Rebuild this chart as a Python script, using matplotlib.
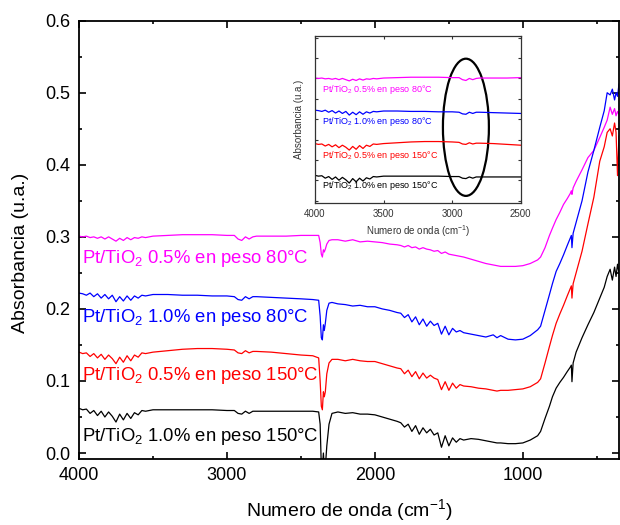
import matplotlib
matplotlib.use("Agg")
import matplotlib.pyplot as plt
from matplotlib.patches import Ellipse
from matplotlib.ticker import MultipleLocator

plt.rcParams['font.family'] = ['Liberation Sans', 'DejaVu Sans']
plt.rcParams['mathtext.fontset'] = 'custom'
plt.rcParams['mathtext.rm'] = 'Liberation Sans'
plt.rcParams['mathtext.it'] = 'Liberation Sans:italic'
plt.rcParams['mathtext.bf'] = 'Liberation Sans:bold'

# ---------------- data ----------------
wavenumber = [
    4000, 3975, 3950, 3925, 3900, 3875, 3850, 3825, 3800, 3775, 3750, 3725, 3700, 3675, 3650, 3625, 3600, 3575, 3550,
    3500, 3400, 3300, 3200, 3100, 3000, 2950, 2925, 2900, 2875, 2850, 2825, 2800, 2700, 2600, 2500, 2420,
    2380, 2370, 2362, 2355, 2348, 2342, 2335, 2325, 2310, 2290,
    2250, 2200, 2150, 2100, 2050, 2000, 1950, 1900, 1850,
    1825, 1800, 1775, 1750, 1725, 1700, 1675, 1650, 1625, 1600, 1575, 1550, 1525, 1500, 1475, 1450, 1425, 1400,
    1350, 1300, 1250, 1200, 1175, 1150, 1100, 1050, 1000, 950, 900, 880,
    850, 820, 800, 775, 750, 725, 700, 680, 672, 668, 660, 640, 600, 560, 520, 480, 450, 430, 410, 395, 380, 370, 360, 350,
]

abs_05_80 = [
    0.301, 0.300, 0.301, 0.299, 0.300, 0.298, 0.300, 0.297, 0.300, 0.297, 0.294, 0.298, 0.295, 0.299, 0.296, 0.299, 0.298, 0.300, 0.299,
    0.301, 0.302, 0.303, 0.303, 0.303, 0.302, 0.302, 0.297, 0.295, 0.300, 0.297, 0.300, 0.301, 0.301, 0.301, 0.302, 0.302,
    0.302, 0.292, 0.276, 0.272, 0.282, 0.279, 0.283, 0.290, 0.295, 0.296,
    0.296, 0.294, 0.296, 0.293, 0.294, 0.293, 0.292, 0.290, 0.289,
    0.288, 0.286, 0.288, 0.285, 0.286, 0.283, 0.285, 0.283, 0.282, 0.280, 0.281, 0.277, 0.279, 0.276, 0.275, 0.274, 0.273, 0.272,
    0.269, 0.266, 0.263, 0.261, 0.260, 0.259, 0.259, 0.259, 0.260, 0.263, 0.268, 0.272,
    0.285, 0.302, 0.312, 0.324, 0.334, 0.345, 0.353, 0.360, 0.364, 0.359, 0.368, 0.377, 0.393, 0.410, 0.420, 0.438, 0.452, 0.462, 0.480, 0.470, 0.478, 0.468, 0.474, 0.470,
]

abs_10_80 = [
    0.222, 0.221, 0.219, 0.222, 0.217, 0.221, 0.215, 0.220, 0.214, 0.219, 0.210, 0.217, 0.211, 0.218, 0.212, 0.218, 0.215, 0.219, 0.218,
    0.220, 0.220, 0.219, 0.219, 0.218, 0.218, 0.217, 0.213, 0.212, 0.217, 0.214, 0.217, 0.217, 0.216, 0.215, 0.214, 0.213,
    0.212, 0.190, 0.160, 0.157, 0.178, 0.170, 0.180, 0.198, 0.208, 0.209,
    0.207, 0.206, 0.204, 0.205, 0.203, 0.203, 0.200, 0.198, 0.195,
    0.194, 0.188, 0.192, 0.182, 0.189, 0.178, 0.186, 0.176, 0.183, 0.177, 0.180, 0.165, 0.176, 0.164, 0.173, 0.168, 0.170, 0.167,
    0.165, 0.163, 0.161, 0.164, 0.160, 0.163, 0.158, 0.157, 0.158, 0.163, 0.171, 0.176,
    0.198, 0.220, 0.235, 0.252, 0.263, 0.275, 0.288, 0.298, 0.302, 0.285, 0.305, 0.320, 0.350, 0.390, 0.420, 0.452, 0.475, 0.500, 0.497, 0.505, 0.490, 0.500, 0.495, 0.512,
]

abs_05_150 = [
    0.140, 0.138, 0.139, 0.134, 0.138, 0.132, 0.137, 0.130, 0.136, 0.131, 0.124, 0.133, 0.126, 0.135, 0.128, 0.136, 0.133, 0.139, 0.138,
    0.140, 0.142, 0.144, 0.145, 0.145, 0.144, 0.143, 0.139, 0.138, 0.142, 0.139, 0.141, 0.141, 0.140, 0.138, 0.136, 0.135,
    0.132, 0.100, 0.065, 0.060, 0.085, 0.078, 0.085, 0.110, 0.125, 0.130,
    0.130, 0.128, 0.130, 0.128, 0.127, 0.127, 0.124, 0.121, 0.118,
    0.117, 0.110, 0.115, 0.106, 0.113, 0.103, 0.111, 0.104, 0.108, 0.104, 0.102, 0.088, 0.099, 0.087, 0.097, 0.090, 0.095, 0.093,
    0.092, 0.090, 0.089, 0.087, 0.086, 0.087, 0.087, 0.088, 0.089, 0.092, 0.098, 0.103,
    0.125, 0.148, 0.163, 0.180, 0.193, 0.205, 0.218, 0.228, 0.232, 0.215, 0.235, 0.250, 0.280, 0.318, 0.355, 0.405, 0.425, 0.445, 0.450, 0.440, 0.458, 0.445, 0.385, 0.440,
]

abs_10_150 = [
    0.062, 0.060, 0.061, 0.055, 0.059, 0.052, 0.058, 0.050, 0.057, 0.051, 0.043, 0.054, 0.046, 0.055, 0.048, 0.056, 0.053, 0.059, 0.058,
    0.060, 0.060, 0.060, 0.060, 0.060, 0.059, 0.059, 0.055, 0.054, 0.058, 0.055, 0.058, 0.058, 0.058, 0.058, 0.058, 0.058,
    0.057, 0.040, -0.020, -0.020, 0.000, -0.020, -0.020, 0.010, 0.040, 0.055,
    0.057, 0.055, 0.056, 0.054, 0.054, 0.053, 0.050, 0.047, 0.044,
    0.042, 0.036, 0.040, 0.030, 0.038, 0.026, 0.035, 0.028, 0.033, 0.025, 0.028, 0.008, 0.024, 0.010, 0.021, 0.015, 0.020, 0.018,
    0.020, 0.019, 0.017, 0.015, 0.014, 0.014, 0.013, 0.013, 0.014, 0.018, 0.024, 0.030,
    0.048, 0.065, 0.078, 0.090, 0.098, 0.105, 0.113, 0.119, 0.122, 0.099, 0.125, 0.140, 0.160, 0.178, 0.195, 0.215, 0.230, 0.245, 0.255, 0.240, 0.258, 0.245, 0.262, 0.250,
]

series = [
    ("Pt/TiO$_2$ 0.5% en peso 80°C", abs_05_80, "#ff00ff"),
    ("Pt/TiO$_2$ 1.0% en peso 80°C", abs_10_80, "#0000ff"),
    ("Pt/TiO$_2$ 0.5% en peso 150°C", abs_05_150, "#ff0000"),
    ("Pt/TiO$_2$ 1.0% en peso 150°C", abs_10_150, "#000000"),
]
label_y_main = [0.264, 0.182, 0.102, 0.016]
label_y_inset = [0.267, 0.188, 0.104, 0.031]

xticks_main = [4000, 3000, 2000, 1000]
yticks_main = [0.0, 0.1, 0.2, 0.3, 0.4, 0.5, 0.6]
xticks_inset = [4000, 3500, 3000, 2500]

# ---------------- figure ----------------
fig = plt.figure(figsize=(6.2, 5.25), dpi=100)
ax = fig.add_axes([0.1274, 0.1257, 0.8710, 0.8349])

for (lab, vals, col), ly in zip(series, label_y_main):
    ax.plot(wavenumber, vals, color=col, lw=0.9)
    ax.text(3982, ly, lab, color=col, fontsize=13.3, ha='left', va='baseline')

ax.set_xlim(4000, 350)
ax.set_ylim(-0.0083, 0.6)
ax.set_xticks(xticks_main)
ax.set_yticks(yticks_main)
ax.set_yticklabels([f"{v:.1f}" for v in yticks_main])
ax.xaxis.set_minor_locator(MultipleLocator(500))
ax.yaxis.set_minor_locator(MultipleLocator(0.05))
ax.tick_params(which='both', direction='in', top=True, right=True, width=1.2)
ax.tick_params(which='major', length=5, labelsize=13, pad=6)
ax.tick_params(which='minor', length=2.5)
for sp in ax.spines.values():
    sp.set_linewidth(1.3)
ax.set_xlabel("Numero de onda (cm$^{-1}$)", fontsize=14, labelpad=9)
ax.set_ylabel("Absorbancia (u.a.)", fontsize=14)
ax.yaxis.set_label_coords(-0.092, 0.47)

# ---------------- inset ----------------
ins = fig.add_axes([0.508, 0.613, 0.332, 0.319])
for (lab, vals, col), ly in zip(series, label_y_inset):
    ins.plot(wavenumber, vals, color=col, lw=0.9)
    ins.text(3951, ly, lab, color=col, fontsize=6.5, ha='left', va='baseline')
ins.add_patch(Ellipse((2900, 0.18), 335, 0.337, fill=False, edgecolor='black', lw=1.6))
ins.set_xlim(4000, 2500)
ins.set_ylim(-0.0064, 0.405)
ins.set_xticks(xticks_inset)
ins.yaxis.set_major_locator(MultipleLocator(0.05))
ins.set_yticklabels([])
ins.tick_params(which='both', direction='in', top=True, right=True, length=2.5, width=0.8,
                labelsize=7, pad=4, colors='#333333')
for sp in ins.spines.values():
    sp.set_linewidth(0.9)
    sp.set_color('#333333')
ins.set_xlabel("Numero de onda (cm$^{-1}$)", fontsize=7, labelpad=3, color='#333333')
ins.set_ylabel("Absorbancia (u.a.)", fontsize=7, labelpad=4, color='#333333')

fig.savefig("out.png", dpi=100)
